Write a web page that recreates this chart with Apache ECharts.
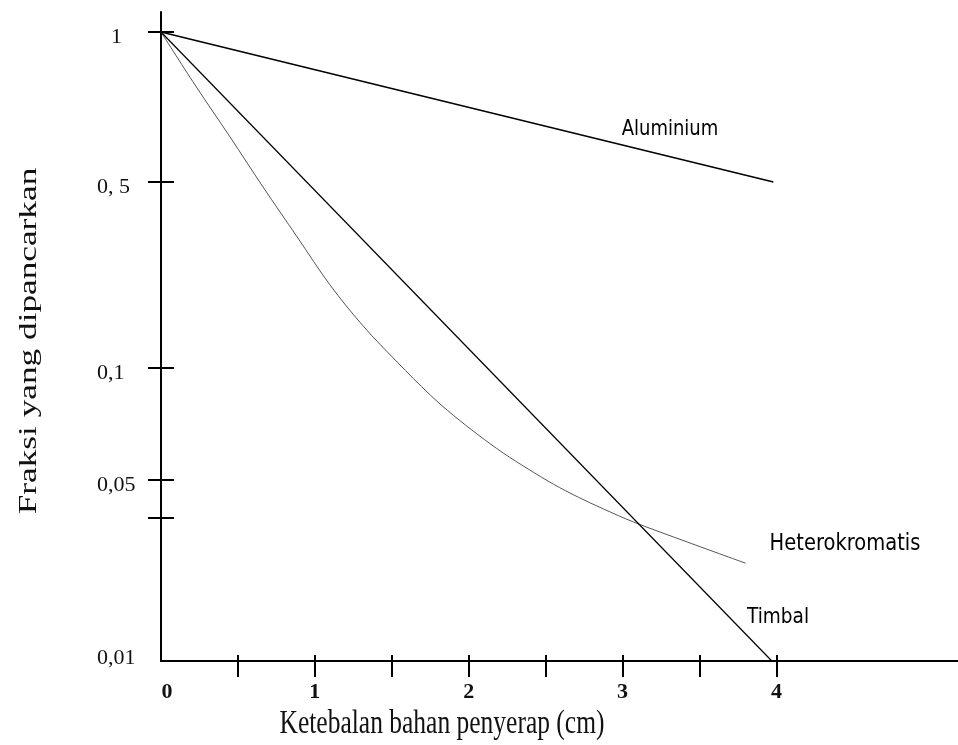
<!DOCTYPE html>
<html>
<head>
<meta charset="utf-8">
<script src="https://cdn.jsdelivr.net/npm/echarts@6/dist/echarts.min.js"></script>
<style>
html,body{margin:0;padding:0;background:#fff;}
#chart{width:958px;height:745px;}
</style>
</head>
<body>
<div id="chart"></div>
<script>
// ---- data ----
const xTickValues = [0.5, 1, 1.5, 2, 2.5, 3, 3.5, 4];
const xLabelValues = [0, 1, 2, 3, 4];
const yTickValues = [1, 0.5, 0.1, 0.05, 0.04, 0.01];
const yLabelValues = [1, 0.5, 0.1, 0.05, 0.01];
const yLabelTexts = ['1', '0, 5', '0,1', '0,05', '0,01'];
const aluminium = [[0, 1], [3.98, 0.5]];
const timbal = [[0, 1], [3.97, 0.01]];
const heterokromatis = [
  [0, 1], [0.221, 0.783], [0.449, 0.6156], [0.663, 0.479], [0.885, 0.3108],
  [1.099, 0.205], [1.314, 0.1438], [1.535, 0.1053], [1.75, 0.0846],
  [1.899, 0.0747], [2.062, 0.0661], [2.224, 0.0591], [2.387, 0.0535],
  [2.55, 0.0488], [2.712, 0.0452], [2.875, 0.0422], [3.07, 0.0385],
  [3.42, 0.0317], [3.80, 0.0258]
];
const seriesNames = ['Aluminium', 'Heterokromatis', 'Timbal'];
const xTitle = 'Ketebalan bahan penyerap (cm)';
const yTitle = 'Fraksi yang dipancarkan';

// ---- the hand-drawn (non-uniform) logarithmic scale of the original ----
const scaleFractions = [0.01, 0.04, 0.05, 0.1, 0.5, 1];
const scalePositions = [0, 143, 181, 293, 479, 629];
function toPos(v) {
  const lv = Math.log10(v);
  for (let i = 0; i < scaleFractions.length - 1; i++) {
    const a = Math.log10(scaleFractions[i]), b = Math.log10(scaleFractions[i + 1]);
    if (lv <= b || i === scaleFractions.length - 2) {
      return scalePositions[i] + (lv - a) / (b - a) * (scalePositions[i + 1] - scalePositions[i]);
    }
  }
}
const mapSeries = arr => arr.map(p => [p[0], toPos(p[1])]);
const labelByPos = {};
yLabelValues.forEach((v, i) => { labelByPos[Math.round(toPos(v))] = {text: yLabelTexts[i], idx: i}; });

const serif = '"Liberation Serif", "Times New Roman", serif';
const sans = '"DejaVu Sans", sans-serif';
const chart = echarts.init(document.getElementById('chart'), null, {renderer: 'canvas'});
const axisLineStyle = {color: '#000', width: 2};
const ySize = 22;
const xSize = 22;

const option = {
  backgroundColor: '#fff',
  animation: false,
  grid: {left: 161, right: 0, top: 12, bottom: 84, containLabel: false},
  xAxis: [{
    type: 'value', min: 0, max: 5.18,
    axisLine: {show: true, onZero: false, lineStyle: axisLineStyle},
    axisTick: {show: true, customValues: xTickValues, length: 16, inside: false, lineStyle: {color: '#000', width: 2}},
    axisLabel: {
      show: true, customValues: xLabelValues, margin: 20,
      fontFamily: serif, fontSize: xSize, color: '#111', fontWeight: 'bold',
      formatter: v => v === 0 ? '{z|0}' : '{n|' + v + '}',
      rich: {
        z: {padding: [0, 0, 0, 12], fontFamily: serif, fontSize: xSize, fontWeight: 'bold', color: '#111'},
        n: {fontFamily: serif, fontSize: xSize, fontWeight: 'bold', color: '#111'}
      }
    },
    splitLine: {show: false}
  }, {
    type: 'value', min: 0, max: 5.18, position: 'bottom',
    axisLine: {show: false},
    axisTick: {show: true, customValues: xTickValues, length: 6, inside: true, lineStyle: {color: '#000', width: 2}},
    axisLabel: {show: false},
    splitLine: {show: false}
  }],
  yAxis: [{
    type: 'value', min: 0, max: 649, position: 'left',
    axisLine: {show: true, onZero: false, lineStyle: axisLineStyle},
    axisTick: {show: true, customValues: yTickValues.filter(v => v !== 0.01).map(toPos), length: 13, lineStyle: {color: '#000', width: 2}},
    axisLabel: {
      show: true, customValues: yLabelValues.map(toPos), margin: 64, align: 'left',
      fontFamily: serif, fontSize: ySize, color: '#111',
      formatter: v => {
        const e = labelByPos[Math.round(v)];
        if (!e) return '';
        if (e.text === '1') return '{one|1}';
        if (e.text === '0,01') return '{low|0,01}';
        return '{n|' + e.text + '}';
      },
      rich: {
        one: {padding: [10, 0, 0, 14], fontFamily: serif, fontSize: ySize, color: '#111'},
        n: {padding: [10, 0, 0, 0], fontFamily: serif, fontSize: ySize, color: '#111'},
        low: {padding: [0, 0, 6, 0], fontFamily: serif, fontSize: ySize, color: '#111'}
      }
    },
    splitLine: {show: false}
  }, {
    type: 'value', min: 0, max: 649, position: 'left',
    axisLine: {show: false},
    axisTick: {show: true, inside: true, customValues: yTickValues.filter(v => v !== 0.01).map(toPos), length: 13, lineStyle: {color: '#000', width: 2}},
    axisLabel: {show: false},
    splitLine: {show: false}
  }],
  series: [{
    name: seriesNames[0], type: 'line', data: mapSeries(aluminium),
    showSymbol: false, symbol: 'none',
    lineStyle: {color: '#000', width: 1.6}
  }, {
    name: seriesNames[1], type: 'line', data: mapSeries(heterokromatis),
    showSymbol: false, symbol: 'none', smooth: 0.35,
    lineStyle: {color: '#555', width: 1}
  }, {
    name: seriesNames[2], type: 'line', data: mapSeries(timbal),
    showSymbol: false, symbol: 'none',
    lineStyle: {color: '#000', width: 1.2}
  }],
  graphic: [
    {type: 'text', x: 670, y: 130, scaleY: 1.15, style: {text: seriesNames[0], fontFamily: sans, fontSize: 18, fill: '#000', align: 'center', verticalAlign: 'middle'}},
    {type: 'text', x: 845, y: 544, scaleY: 1.15, style: {text: seriesNames[1], fontFamily: sans, fontSize: 19.5, fill: '#000', align: 'center', verticalAlign: 'middle'}},
    {type: 'text', x: 778, y: 617, scaleY: 1.15, style: {text: seriesNames[2], fontFamily: sans, fontSize: 18.5, fill: '#000', align: 'center', verticalAlign: 'middle'}},
    {type: 'text', x: 442, y: 724, scaleY: 1.28, style: {text: xTitle, fontFamily: serif, fontSize: 25.5, fill: '#111', align: 'center', verticalAlign: 'middle'}},
    {type: 'text', x: 29, y: 341, rotation: Math.PI / 2, scaleX: 1.41, style: {text: yTitle, fontFamily: serif, fontSize: 25, fill: '#111', align: 'center', verticalAlign: 'middle'}}
  ]
};
chart.setOption(option);
</script>
</body>
</html>
